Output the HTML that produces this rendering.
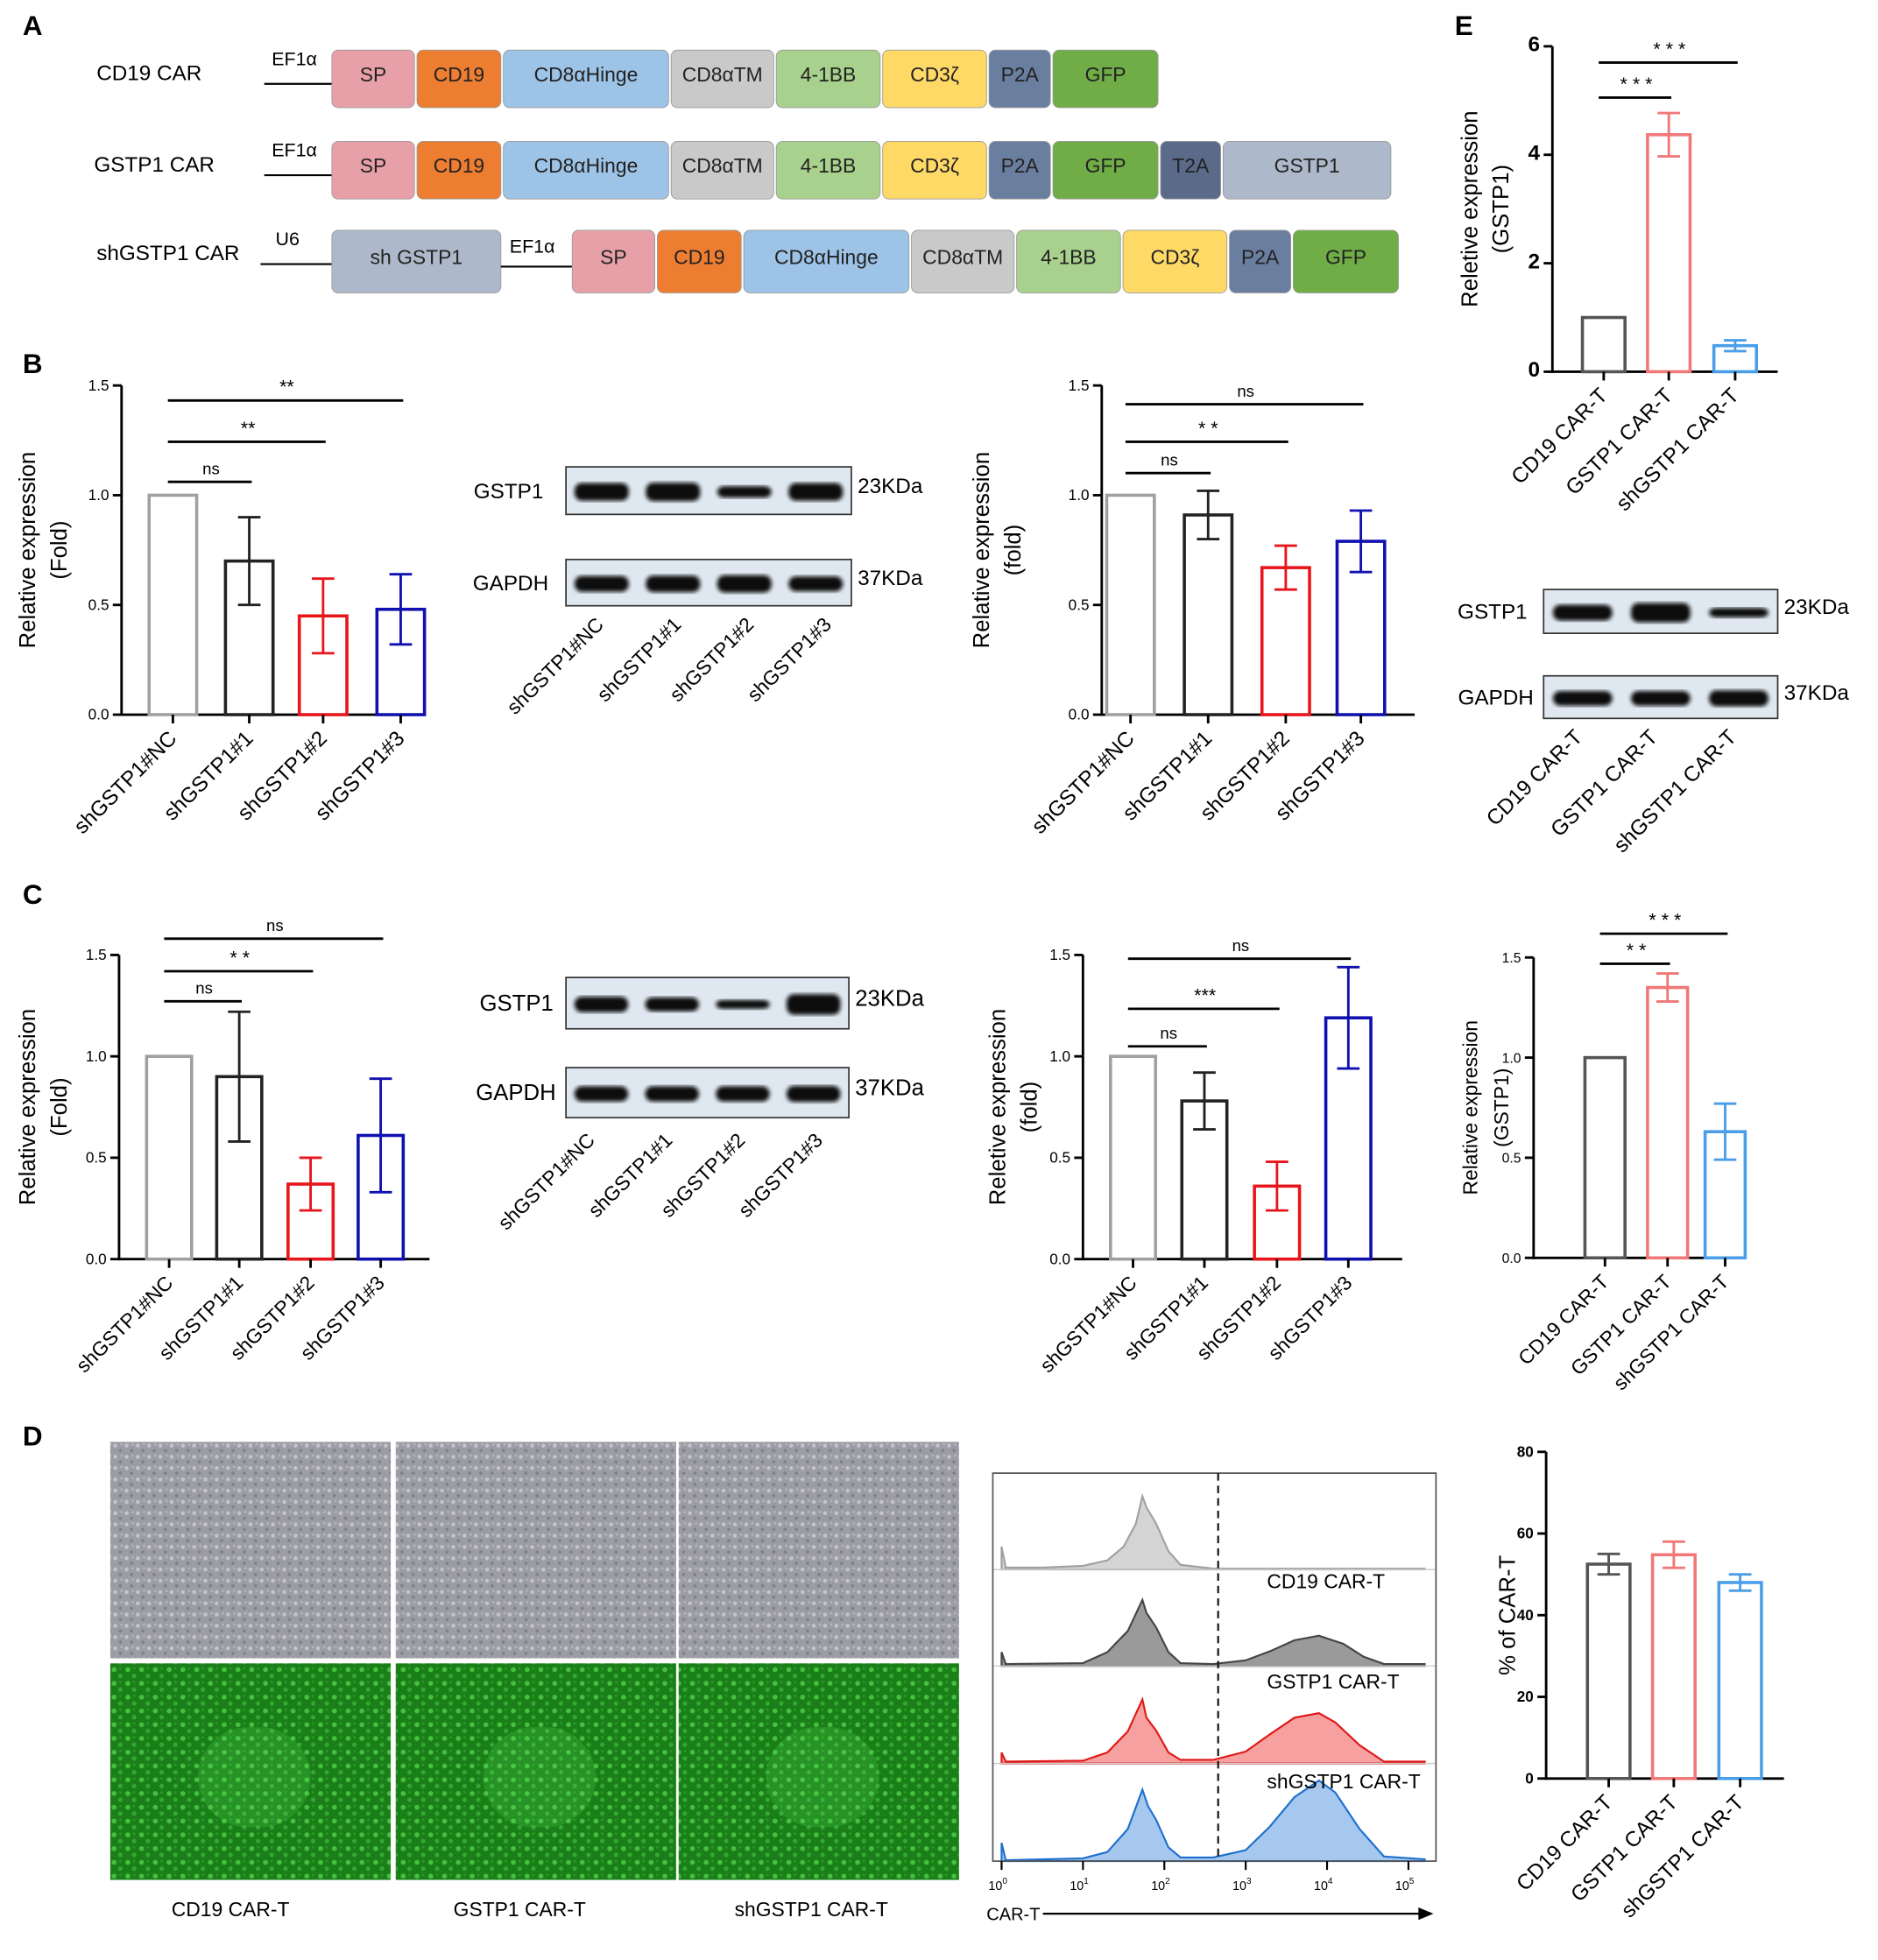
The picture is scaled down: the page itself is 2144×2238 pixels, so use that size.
<!DOCTYPE html>
<html><head><meta charset="utf-8"><style>
html,body{margin:0;padding:0;background:#fff;}
svg{display:block;font-family:"Liberation Sans",Arial,sans-serif;}
</style></head><body>
<svg id="fig" width="2144" height="2238" viewBox="0 0 1500 1566" xmlns="http://www.w3.org/2000/svg">
<defs>
<filter id="blur1"><feGaussianBlur stdDeviation="1.6"/></filter>
<pattern id="cellsGray" width="9" height="9" patternUnits="userSpaceOnUse">
<rect width="9" height="9" fill="#9c9ca4"/><circle cx="2" cy="3" r="1.6" fill="#c4c4ca"/><circle cx="6" cy="7" r="1.3" fill="#80808a"/><circle cx="7" cy="2" r="1" fill="#b4b4bc"/>
</pattern>
<pattern id="cellsGreen" width="11" height="11" patternUnits="userSpaceOnUse">
<rect width="11" height="11" fill="#1a7f18"/><circle cx="3" cy="3" r="2" fill="#45c040"/><circle cx="8" cy="8" r="1.8" fill="#34a832"/><circle cx="8" cy="2" r="1" fill="#2a9a28"/>
</pattern>
</defs>
<g id="root"></g>
</svg>
<script>
// ---------- Panel A construct data ----------
const rowLabels = ["CD19 CAR","GSTP1 CAR","shGSTP1 CAR"];
const row1Blocks = ["SP","CD19","CD8αHinge","CD8αTM","4-1BB","CD3ζ","P2A","GFP"];
const row2Blocks = ["SP","CD19","CD8αHinge","CD8αTM","4-1BB","CD3ζ","P2A","GFP","T2A","GSTP1"];
const row3Blocks = ["sh GSTP1","SP","CD19","CD8αHinge","CD8αTM","4-1BB","CD3ζ","P2A","GFP"];

// ---------- Bar chart data ----------
const bLeftCats = ["shGSTP1#NC","shGSTP1#1","shGSTP1#2","shGSTP1#3"];
const bLeftVals = [1.0,0.70,0.45,0.48];
const bLeftErr = [0,0.20,0.17,0.16];
const bLeftTicks = ["0.0","0.5","1.0","1.5"];
const bLeftSig = ["ns","**","**"];

const bRightVals = [1.0,0.91,0.67,0.79];
const bRightErr = [0,0.11,0.10,0.14];
const bRightSig = ["ns","* *","ns"];

const cLeftVals = [1.0,0.90,0.37,0.61];
const cLeftErr = [0,0.32,0.13,0.28];
const cLeftSig = ["ns","* *","ns"];

const cRightVals = [1.0,0.78,0.36,1.19];
const cRightErr = [0,0.14,0.12,0.25];
const cRightSig = ["ns","***","ns"];

const carCats = ["CD19 CAR-T","GSTP1 CAR-T","shGSTP1 CAR-T"];
const eTopVals = [1.0,4.37,0.48];
const eTopErr = [0,0.40,0.10];
const eTopTicks = ["0","2","4","6"];
const eTopSig = ["* * *","* * *"];

const eMidVals = [1.0,1.35,0.63];
const eMidErr = [0,0.07,0.14];
const eMidSig = ["* *","* * *"];

const dVals = [52.5,54.8,48.0];
const dErr = [2.5,3.2,2.0];
const dTicks = ["0","20","40","60","80"];

// ---------- Flow histogram data [log10 value, relative height] ----------
const flowCD19Neg = [[0,0.25],[0.05,0.02],[0.5,0.02],[1.0,0.04],[1.3,0.1],[1.5,0.25],[1.65,0.5],[1.73,0.8],[1.78,0.68],[1.9,0.5],[2.05,0.2],[2.2,0.05],[2.6,0.01],[5.2,0.01]];
const flowCD19 = [[0,0.15],[0.05,0.02],[1.0,0.03],[1.3,0.15],[1.55,0.38],[1.73,0.72],[1.78,0.58],[1.9,0.42],[2.05,0.15],[2.2,0.03],[2.6,0.02],[3.0,0.06],[3.3,0.16],[3.6,0.28],[3.9,0.33],[4.2,0.24],[4.45,0.1],[4.7,0.02],[5.2,0.02]];
const flowGSTP1 = [[0,0.12],[0.05,0.02],[1.0,0.03],[1.3,0.12],[1.55,0.35],[1.73,0.7],[1.78,0.5],[1.9,0.36],[2.05,0.12],[2.2,0.04],[2.6,0.04],[3.0,0.13],[3.3,0.32],[3.6,0.5],[3.9,0.55],[4.1,0.45],[4.4,0.2],[4.7,0.02],[5.2,0.02]];
const flowSh = [[0,0.2],[0.05,0.01],[1.0,0.03],[1.3,0.1],[1.55,0.35],[1.73,0.78],[1.8,0.6],[1.9,0.45],[2.05,0.15],[2.2,0.04],[2.6,0.04],[3.0,0.12],[3.3,0.38],[3.6,0.7],[3.9,0.88],[4.1,0.75],[4.4,0.35],[4.7,0.05],[5.2,0.02]];
const flowLabels = ["CD19 CAR-T","GSTP1 CAR-T","shGSTP1 CAR-T"];
const flowTicks = ["0","1","2","3","4","5"];

const NS="http://www.w3.org/2000/svg";
const root=document.getElementById('root');
function el(tag,attrs,parent,txt){const e=document.createElementNS(NS,tag);for(const k in attrs)e.setAttribute(k,attrs[k]);if(txt!==undefined)e.textContent=txt;(parent||root).appendChild(e);return e;}

// panel letters
[["A",18,28],["B",18,298],["C",18,722],["D",18,1155],["E",1162,28]].forEach(p=>{
  const t=el('text',{x:p[1],y:p[2],'font-size':22,'font-weight':'bold'},root,p[0]);
  
  
});

// ---------- Panel A ----------
const blockColors={"SP":"#e8a0a8","CD19":"#ed7d31","CD8αHinge":"#9dc3e6","CD8αTM":"#c9c9c9","4-1BB":"#a9d18e","CD3ζ":"#ffd966","P2A":"#6a7fa0","GFP":"#70ad47","T2A":"#5a6a88","GSTP1":"#adb9ca","sh GSTP1":"#adb9ca"};
const blockWidths={"SP":68,"CD19":69,"CD8αHinge":134,"CD8αTM":84,"4-1BB":85,"CD3ζ":85,"P2A":51,"GFP":86,"T2A":50,"GSTP1":136,"sh GSTP1":137};
function construct(blocks,x0,y,h,idx){
  const g=el('g',{});
  
  
  let x=x0;
  blocks.forEach(b=>{
    const w=blockWidths[b];
    const r=el('rect',{x:x,y:y,width:w-2,height:h,rx:5,fill:blockColors[b],stroke:'#999','stroke-width':0.6},g);
    
    
    el('text',{x:x+(w-2)/2,y:y+h/2+2,'font-size':16,'text-anchor':'middle',fill:'#222'},g,b);
    x+=w;
    if(b==="sh GSTP1"){ el('line',{x1:x-2,y1:y+h/2+4,x2:x+55,y2:y+h/2+4,stroke:'#000','stroke-width':1.5},g); el('text',{x:x+5,y:y+18,'font-size':15},g,'EF1α'); x+=55; }
  });
  return g;
}
const rowsY=[40,113,184];
rowLabels.forEach((l,i)=>{
  const t=el('text',{x:i===2?77:(i===0?77:75),y:rowsY[i]+24,'font-size':17},root,l);
  
  
  el('line',{x1:i===2?208:211,y1:rowsY[i]+27,x2:265,y2:rowsY[i]+27,stroke:'#000','stroke-width':1.5});
  el('text',{x:i===2?220:217,y:rowsY[i]+12,'font-size':15},root,i===2?'U6':'EF1α');
});
construct(row1Blocks,265,rowsY[0],46,0);
construct(row2Blocks,265,rowsY[1],46,1);
construct(row3Blocks,265,rowsY[2],50,2);

// ---------- bar chart function ----------
function barChart(o){
  const g=el('g',{});
  
  
  const yS=v=>o.y0-(v-o.min)/(o.max-o.min)*(o.y0-o.y1);
  el('line',{x1:o.ax,y1:o.y1,x2:o.ax,y2:o.y0+1,stroke:'#000','stroke-width':2},g);
  el('line',{x1:o.ax,y1:o.y0,x2:o.xe,y2:o.y0,stroke:'#000','stroke-width':2},g);
  o.ticks.forEach((t,i)=>{
    const v=o.min+(o.max-o.min)*i/(o.ticks.length-1);
    const y=yS(v);
    el('line',{x1:o.ax-7,y1:y,x2:o.ax,y2:y,stroke:'#000','stroke-width':2},g);
    const tt=el('text',{x:o.ax-10,y:y+4,'font-size':o.tfs||12,'text-anchor':'end','font-weight':o.tbold?'bold':'normal'},g,t);
    
    
  });
  o.vals.forEach((v,i)=>{
    const cx=o.cx[i];
    const r=el('rect',{x:cx-o.bw/2,y:yS(v),width:o.bw,height:o.y0-yS(v),fill:'none',stroke:o.colors[i],'stroke-width':2.5},g);
    
    
    const e=o.err[i];
    if(e>0){
      el('line',{x1:cx,y1:yS(v+e),x2:cx,y2:yS(v-e),stroke:o.colors[i],'stroke-width':2},g);
      el('line',{x1:cx-9,y1:yS(v+e),x2:cx+9,y2:yS(v+e),stroke:o.colors[i],'stroke-width':2},g);
      el('line',{x1:cx-9,y1:yS(v-e),x2:cx+9,y2:yS(v-e),stroke:o.colors[i],'stroke-width':2},g);
    }
    el('line',{x1:cx,y1:o.y0,x2:cx,y2:o.y0+7,stroke:'#000','stroke-width':2},g);
    const lab=el('text',{x:cx+4,y:o.y0+20,'font-size':o.lfs||17,'text-anchor':'end',transform:`rotate(-45 ${cx+4} ${o.y0+20})`},g,o.cats[i]);
    
    
  });
  (o.sig||[]).forEach((s,i)=>{
    const y=o.sigY[i];
    el('line',{x1:o.cx[0]-4,y1:y,x2:o.cx[i+1]+2,y2:y,stroke:'#000','stroke-width':2},g);
    const st=el('text',{x:(o.cx[0]+o.cx[i+1])/2,y:y-6,'font-size':s==='ns'?13:15,'text-anchor':'middle'},g,s);
    
    
  });
  const tl=el('text',{x:0,y:0,'font-size':o.yfs||18,'text-anchor':'middle',transform:`translate(${o.ytx} ${(o.y0+o.y1)/2}) rotate(-90)`},g);
  o.ytitle.forEach((ln,i)=>{el('tspan',{x:0,dy:i===0?0:25},tl,ln);});
  
  
}
const bcol=['#a0a0a0','#222','#e8151b','#1010b0'];
const ecol=['#555','#f07878','#4a9ee8'];
barChart({name:'chart-b-left',ax:97,y0:571,y1:308,xe:340,min:0,max:1.5,ticks:bLeftTicks,vals:bLeftVals,err:bLeftErr,cx:[138,199,258,320],bw:38,colors:bcol,cats:bLeftCats,sig:bLeftSig,sigY:[385,353,320],ytitle:['Relative expression','(Fold)'],ytx:28});
barChart({name:'chart-b-right',ax:880,y0:571,y1:308,xe:1130,min:0,max:1.5,ticks:bLeftTicks,vals:bRightVals,err:bRightErr,cx:[903,965,1027,1087],bw:38,colors:bcol,cats:bLeftCats,sig:bRightSig,sigY:[378,353,323],ytitle:['Relative expression','(fold)'],ytx:790});
barChart({name:'chart-c-left',ax:95,y0:1006,y1:763,xe:343,min:0,max:1.5,ticks:bLeftTicks,vals:cLeftVals,err:cLeftErr,cx:[135,191,248,304],bw:36,colors:bcol,cats:bLeftCats,sig:cLeftSig,sigY:[800,776,750],ytitle:['Relative expression','(Fold)'],ytx:28,lfs:16});
barChart({name:'chart-c-right',ax:865,y0:1006,y1:763,xe:1120,min:0,max:1.5,ticks:bLeftTicks,vals:cRightVals,err:cRightErr,cx:[905,962,1020,1077],bw:36,colors:bcol,cats:bLeftCats,sig:cRightSig,sigY:[836,806,766],ytitle:['Reletive expression','(fold)'],ytx:803,lfs:16});
barChart({name:'chart-e-mid',ax:1225,y0:1005,y1:765,xe:1395,min:0,max:1.5,ticks:bLeftTicks,vals:eMidVals,err:eMidErr,cx:[1282,1332,1378],bw:32,colors:ecol,cats:carCats,sig:eMidSig,sigY:[770,746],ytitle:['Relative expression','(GSTP1)'],ytx:1180,yfs:16,tfs:11,lfs:16});
barChart({name:'chart-e-top',ax:1240,y0:297,y1:37,xe:1420,min:0,max:6,ticks:eTopTicks,vals:eTopVals,err:eTopErr,cx:[1281,1333,1386],bw:34,colors:ecol,cats:carCats,sig:eTopSig,sigY:[78,50],ytitle:['Reletive expression','(GSTP1)'],ytx:1180,tfs:17,tbold:true});
barChart({name:'chart-d-right',ax:1235,y0:1421,y1:1160,xe:1425,min:0,max:80,ticks:dTicks,vals:dVals,err:dErr,cx:[1285,1337,1390],bw:34,colors:ecol,cats:carCats,ytitle:['% of CAR-T'],ytx:1210,tfs:12,tbold:true});

// ---------- Western blots ----------
function blot(name,x,y,w,h,strengths,labels,kda,lblx,fs){
  const g=el('g',{});
  
  
  el('rect',{x:x,y:y,width:w,height:h,fill:'#dfe8f0',stroke:'#333','stroke-width':1.2},g);
  const n=strengths.length, lw=w/n;
  strengths.forEach((s,i)=>{
    el('rect',{x:x+i*lw+lw*0.12,y:y+h/2-h*0.16*s,width:lw*0.76,height:h*0.32*s+2,rx:6,fill:'#111',filter:'url(#blur1)'},g);
  });
  el('text',{x:lblx,y:y+h/2+6,'font-size':fs,'text-anchor':'end'},g,labels);
  el('text',{x:x+w+5,y:y+h/2+2,'font-size':fs},g,kda);
}
const bBlotG=[1,1.05,0.6,1], bBlotA=[0.9,0.95,1,0.85];
blot('blot-b-gstp1',452,373,228,38,bBlotG,'GSTP1','23KDa',434,17);
blot('blot-b-gapdh',452,447,228,37,bBlotA,'GAPDH','37KDa',438,17);
const cBlotG=[0.8,0.7,0.4,1.1], cBlotA=[0.8,0.8,0.8,0.85];
blot('blot-c-gstp1',452,781,226,41,cBlotG,'GSTP1','23KDa',442,18);
blot('blot-c-gapdh',452,853,226,40,cBlotA,'GAPDH','37KDa',444,18);
const eBlotG=[0.95,1.2,0.5], eBlotA=[0.9,0.9,1];
blot('blot-e-gstp1',1233,471,187,35,eBlotG,'GSTP1','23KDa',1220,17);
blot('blot-e-gapdh',1233,540,187,34,eBlotA,'GAPDH','37KDa',1225,17);
function blotLabels(xs,y,labels,fs){labels.forEach((l,i)=>{const t=el('text',{x:xs[i],y:y,'font-size':fs,'text-anchor':'end',transform:`rotate(-45 ${xs[i]} ${y})`},root,l);});}
blotLabels([483,545,603,665],500,bLeftCats,16);
blotLabels([476,538,596,658],912,bLeftCats,16);
blotLabels([1265,1325,1388],590,carCats,17);

// ---------- Panel D images ----------
[[88,'CD19 CAR-T',184],[316,'GSTP1 CAR-T',415],[542,'shGSTP1 CAR-T',648]].forEach((m,i)=>{
  const a=el('rect',{x:m[0],y:1152,width:224,height:173,fill:'url(#cellsGray)'});
  
  
  const b=el('rect',{x:m[0],y:1329,width:224,height:173,fill:'url(#cellsGreen)'});
  
  
  el('rect',{x:m[0]+70,y:1380,width:90,height:80,rx:40,fill:'#60e060',opacity:0.2});
  const t=el('text',{x:m[2],y:1531,'font-size':16,'text-anchor':'middle'},root,m[1]);
  
  
});

// ---------- Flow histogram ----------
const fg=el('g',{});


const fx0=800, dec=65, rowH=77, bases=[1254,1331,1409,1487];
const fX=v=>fx0+v*dec;
const series=[[flowCD19Neg,'#d4d4d4','#a0a0a0'],[flowCD19,'#9a9a9a','#444'],[flowGSTP1,'#f6a0a0','#e01818'],[flowSh,'#a6c8ee','#1e6fcf']];
series.forEach((s,i)=>{
  const b=bases[i];
  let d=`M${fX(s[0][0][0])},${b}`;
  s[0].forEach(p=>{d+=` L${fX(p[0]).toFixed(1)},${(b-p[1]*rowH*0.95).toFixed(1)}`;});
  d+=` L${fX(s[0][s[0].length-1][0])},${b} Z`;
  const p=el('path',{d:d,fill:s[1],stroke:s[2],'stroke-width':1.5},fg);
  
  
  if(i<3) el('line',{x1:793,y1:b,x2:1147,y2:b,stroke:'#ccc','stroke-width':1},fg);
});
el('rect',{x:793,y:1177,width:354,height:310,fill:'none',stroke:'#555','stroke-width':1.2},fg);
el('line',{x1:973,y1:1177,x2:973,y2:1487,stroke:'#111','stroke-width':1.5,'stroke-dasharray':'6 4'},fg);
flowLabels.forEach((l,i)=>{const t=el('text',{x:1012,y:1269+i*80,'font-size':16},fg,l);});
flowTicks.forEach((t,i)=>{
  el('line',{x1:fX(i),y1:1487,x2:fX(i),y2:1494,stroke:'#000','stroke-width':1.5},fg);
  const tt=el('text',{x:fX(i)-3,y:1510,'font-size':10,'text-anchor':'middle'},fg,'10');
  el('tspan',{dy:-5,'font-size':7},tt,t);
});
el('text',{x:788,y:1534,'font-size':14},fg,'CAR-T');
el('line',{x1:833,y1:1529,x2:1135,y2:1529,stroke:'#000','stroke-width':1.5},fg);
el('path',{d:'M1145,1529 L1133,1524 L1133,1534 Z',fill:'#000'},fg);
</script>
</body></html>
